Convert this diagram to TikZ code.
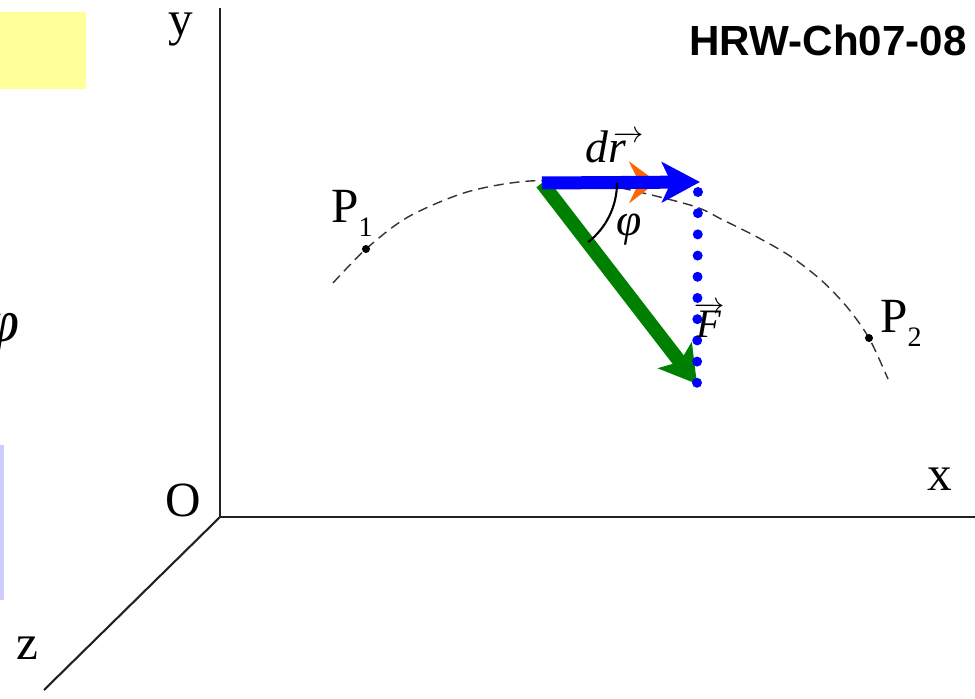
\documentclass[tikz,border=0pt]{standalone}
\usepackage{fontspec}
\setmainfont{Liberation Serif}
\newfontfamily\headsans{Liberation Sans}
\usepackage{tikz}
\usetikzlibrary{arrows.meta, positioning, calc}
\usepackage{xcolor}
\definecolor{notecol}{HTML}{FFFF99}
\definecolor{sidecol}{HTML}{CCCCFF}
\definecolor{drcol}{HTML}{0000FF}
\definecolor{forcecol}{HTML}{008000}
\definecolor{tancol}{HTML}{FF6600}
\definecolor{axiscol}{HTML}{222222}
\definecolor{pathcol}{HTML}{333333}
\newcommand{\ptsub}[1]{\raisebox{-0.28em}{\fontsize{16}{16}\selectfont #1}}
% small arrow over a letter: shift, raise, arrow width, letter
\newcommand{\arrowover}[4]{\rlap{\hspace{#1}\raisebox{#2}{\fontsize{16}{16}\selectfont$\overrightarrow{\hspace{#3}}$}}#4}

\begin{document}
\begin{tikzpicture}[
    x=0.02cm, y=-0.02cm,
    >=Stealth,
    axis/.style={line width=1.2pt, color=axiscol},
    lbl/.style={inner sep=0pt, font=\fontsize{28}{30}\selectfont},
    veclbl/.style={inner sep=0pt, font=\fontsize{26}{28}\selectfont\itshape},
    ptdot/.style={circle, fill=black, inner sep=0pt, minimum size=0.16cm},
    traj/.style={dash pattern=on 0.2cm off 0.12cm, line width=0.8pt, color=pathcol},
    drarrow/.style={-{Stealth[length=0.76cm, width=0.8cm, inset=0.18cm]}, line width=0.26cm, color=drcol},
    tanarrow/.style={-{Stealth[length=0.56cm, width=0.84cm, inset=0.2cm]}, line width=1pt, color=tancol},
    forcearrow/.style={-{Stealth[length=0.72cm, width=0.84cm, inset=0.16cm]}, line width=0.28cm, color=forcecol},
    dotline/.style={line width=0.2cm, line cap=round, dash pattern=on 0pt off 0.424cm, color=drcol},
    anglearc/.style={line width=1.2pt, color=black},
]
\useasboundingbox (0,0) rectangle (975,699);

% ============================================================
%  Side panels (cut off at the left edge)
% ============================================================
\fill[notecol] (0,12) rectangle (86,89);
\fill[sidecol] (0,445) rectangle (4,600);
\node[veclbl, font=\fontsize{34}{36}\selectfont\itshape, anchor=east] (phicut) at (20,334) {φ};

\node[font=\headsans\bfseries\fontsize{24}{26}\selectfont, anchor=east, inner sep=0pt] 
    (tag) at (967,40) {HRW-Ch07-08};

% ============================================================
%  Axes
% ============================================================
\coordinate (O) at (220,517);
\coordinate (ytop) at (220,8);
\coordinate (xend) at (975,517);
\coordinate (zend) at (44,690);

\draw[axis] (ytop) -- (O) -- (xend);
\draw[axis] (O) -- (zend);

\node[lbl] (ylbl) at (181,30) {y};
\node[lbl] (Olbl) at (183,500) {O};
\node[lbl] (xlbl) at (940,479) {x};
\node[lbl] (zlbl) at (27,648) {z};

% ============================================================
%  Path P1 -> P2
% ============================================================
\draw[traj] plot[smooth, tension=0.5] coordinates {(333,283) (366,249) (408,217) (467,192) 
    (530,181) (600,184) (690,205) (723,220) (757,237) (790,256) (821,280) (847,307) 
    (869,338) (888,379)};

\node[ptdot] (P1) at (366,249) {};
\node[ptdot] (P2) at (869,338) {};
\node[lbl, anchor=base west] (P1lbl) at (331,223) {P\ptsub{1}};
\node[lbl, anchor=base west] (P2lbl) at (880,333) {P\ptsub{2}};

% ============================================================
%  dr, F and the angle
% ============================================================
\coordinate (A) at (542,183);
\coordinate (drtip) at (700,182);
\coordinate (tantip) at (657,182);
\coordinate (Ftip) at (697,384);
\coordinate (dtop) at (698,192);

\draw[forcearrow] (A) -- (Ftip);
\draw[tanarrow] (A) -- (tantip);
\draw[drarrow] (A) -- (drtip);
\draw[dotline] (dtop) -- (Ftip);

\draw[anglearc] (A) ++(75,0) arc[start angle=0, end angle=52, radius=75];

\node[veclbl, anchor=base west] (drlbl) at (585,163) {d\arrowover{0.1cm}{0.48em}{0.46cm}{r}};
\node[veclbl] (philbl) at (629,230) {φ};
\node[veclbl, font=\fontsize{23}{25}\selectfont\itshape, anchor=base west] 
    (Flbl) at (696,338) {\arrowover{-0.05cm}{0.66em}{0.62cm}{F}};

\end{tikzpicture}
\end{document}
